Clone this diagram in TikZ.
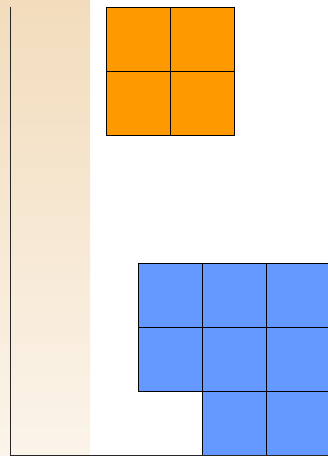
\documentclass[tikz,border=0pt]{standalone}
\usetikzlibrary{positioning}
\definecolor{bandtop}{HTML}{F2DCBC}
\definecolor{bandbot}{HTML}{FBF4EA}
\definecolor{orangecell}{HTML}{FF9900}
\definecolor{bluecell}{HTML}{6699FF}
\begin{document}
\begin{tikzpicture}[x=1pt,y=-1pt,
  cell/.style={draw=black,line width=0.8pt,minimum size=64pt,inner sep=0pt,outer sep=0pt,anchor=north west},
  ocell/.style={cell,fill=orangecell},
  bcell/.style={cell,fill=bluecell},
  axis/.style={draw=black!85,line width=0.9pt}]
\useasboundingbox (0,0) rectangle (328,456);
\shade[top color=bandtop,bottom color=bandbot] (0,0) rectangle (90,456);
% orange block
\node[ocell] (o11) at (106,7) {};
\node[ocell] (o12) at (170,7) {};
\node[ocell] (o21) at (106,71) {};
\node[ocell] (o22) at (170,71) {};
% blue block
\node[bcell] (b11) at (138,263) {};
\node[bcell] (b12) at (202,263) {};
\node[bcell] (b13) at (266,263) {};
\node[bcell] (b21) at (138,327) {};
\node[bcell] (b22) at (202,327) {};
\node[bcell] (b23) at (266,327) {};
\node[bcell] (b32) at (202,391) {};
\node[bcell] (b33) at (266,391) {};
% axes
\coordinate (atop) at (10.5,7);
\coordinate (aorig) at (10.5,455);
\coordinate (aright) at (328,455);
\draw[axis] (atop) -- (aorig) -- (aright);
\end{tikzpicture}
\end{document}
